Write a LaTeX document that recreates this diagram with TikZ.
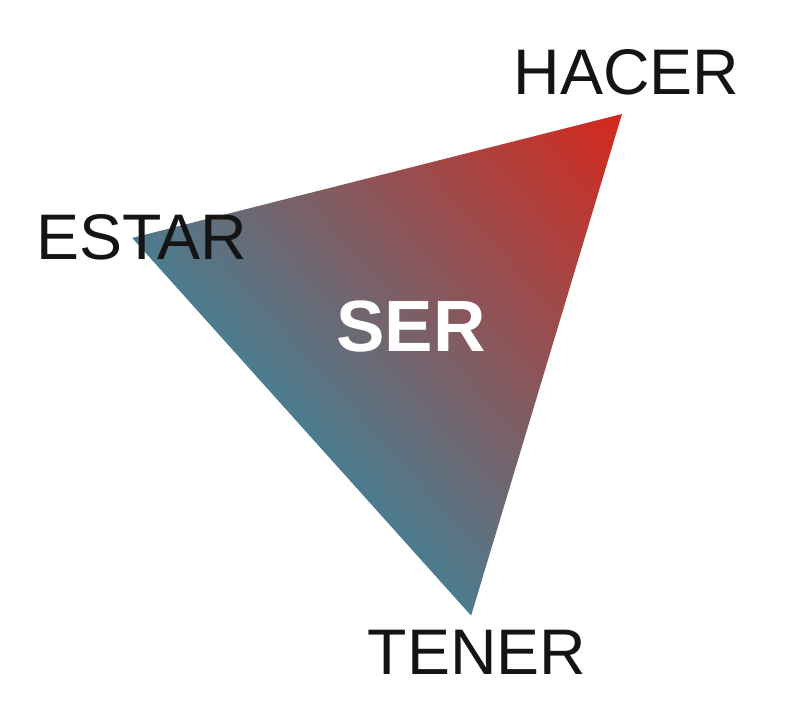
\documentclass[tikz,border=0pt]{standalone}
\usepackage{fontspec}
\setmainfont{Liberation Sans}
\usepackage{tikz}
\usetikzlibrary{calc}
\definecolor{verbred}{RGB}{214,40,28}
\definecolor{verbmid}{RGB}{163,98,90}
\definecolor{verbblue}{RGB}{76,124,142}
\tikzstyle{verb} = [draw=none, inner sep=0pt, text=black!92, font=\fontsize{55}{60}\selectfont]
\tikzstyle{core} = [draw=none, inner sep=0pt, text=white, font=\fontsize{62}{70}\selectfont\bfseries]

\begin{document}
\begin{tikzpicture}[x=0.03cm, y=0.03cm]
\useasboundingbox (0,0) rectangle (809,716);
\coordinate (tr) at (622,602);
\coordinate (tl) at (132,478);
\coordinate (bt) at (471,100);
\begin{scope}
\clip (tr) -- (tl) -- (bt) -- cycle;
\begin{scope}[transform canvas={rotate=41.9}]
\shade [left color=verbblue, middle color=verbmid, right color=verbred] (417.7,-400) rectangle (865.5,400);
\end{scope}
\end{scope}
\node [verb] (H) at (626.5,644) {HACER};
\node [verb] (E) at (142,478.5) {ESTAR};
\node [verb] (T) at (477,64) {TENER};
\node [core] (S) at (411,389.5) {SER};
\end{tikzpicture}
\end{document}
